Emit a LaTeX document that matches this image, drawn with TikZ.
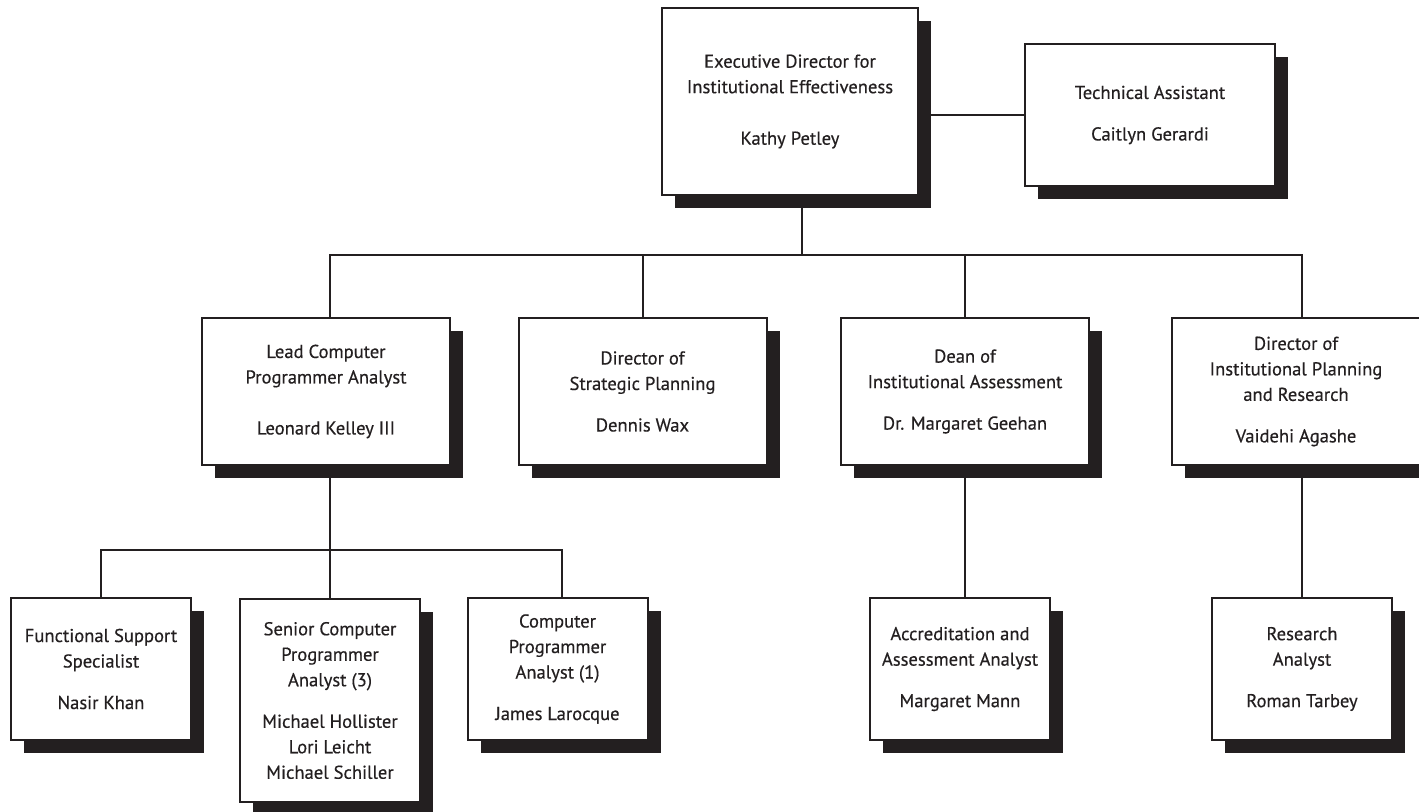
\documentclass[tikz,border=0pt]{standalone}
\usepackage{fontspec}
\setmainfont{PT Sans}
\newfontfamily\orgfont{PT Sans}[FakeBold=0.4]
\usepackage{tikz}
\usetikzlibrary{shadows}
\definecolor{ink}{HTML}{231F20}

\begin{document}
\begin{tikzpicture}[
  x=0.5pt, y=-0.5pt,
  post/.style={draw=ink,line width=1pt,fill=white,align=center,inner sep=0pt,
    text=ink,font=\orgfont\fontsize{9.3}{12.75}\selectfont,
    drop shadow={shadow xshift=6.5pt,shadow yshift=-6.5pt,opacity=1,fill=ink}},
  chief/.style={post,minimum width=128pt,minimum height=93.5pt},
  aide/.style={post,minimum width=125pt,minimum height=71pt},
  head/.style={post,minimum width=124pt,minimum height=73.5pt},
  staff/.style={post,minimum width=90pt,minimum height=71pt},
  link/.style={draw=ink,line width=1pt}]
\useasboundingbox (0,0) rectangle (1419,812);
% top level
\node[chief] (exec) at (790,101.5) {Executive Director for\\Institutional Effectiveness\\[13pt]Kathy Petley};
\node[aide] (tech) at (1150,115) {Technical Assistant\\[8pt]Caitlyn Gerardi};
% directors
\node[head] (lead) at (326,391.5) {Lead Computer\\Programmer Analyst\\[12.75pt]Leonard Kelley III};
\node[head] (strat) at (642.5,391.5) {Director of\\Strategic Planning\\[8pt]Dennis Wax};
\node[head] (dean) at (965,391.5) {Dean of\\Institutional Assessment\\[8pt]Dr. Margaret Geehan};
\node[head] (plan) at (1296,391.5) {Director of\\Institutional Planning\\and Research\\[8pt]Vaidehi Agashe};
% staff
\node[staff] (func) at (101,669) {Functional Support\\Specialist\\[8pt]Nasir Khan};
\node[staff,minimum height=101.5pt] (senior) at (330,700.5) {Senior Computer\\Programmer\\Analyst (3)\\[8pt]Michael Hollister\\Lori Leicht\\Michael Schiller};
\node[staff] (prog) at (557.5,669) {Computer\\Programmer\\Analyst (1)\\[8pt]James Larocque};
\node[staff] (accred) at (960,669) {Accreditation and\\Assessment Analyst\\[8pt]Margaret Mann};
\node[staff] (research) at (1302,669) {Research\\Analyst\\[8pt]Roman Tarbey};
% connectors
\coordinate (bus) at (802,255);
\coordinate (fork) at (330,550);
\draw[link] (tech.west) -- (tech.west -| exec.east);
\draw[link] ([xshift=6pt]exec.south) -- (bus);
\draw[link] (lead.north -| fork) |- (bus) -| (research.north |- plan.north);
\draw[link] (strat.north) -- (strat.north |- bus);
\draw[link] (dean.north) -- (dean.north |- bus);
\draw[link] (lead.south -| fork) -- (fork);
\draw[link] (func.north) |- (fork) -| ([xshift=2pt]prog.north);
\draw[link] (senior.north) -- (fork);
\draw[link] (dean.south) -- (dean.south |- accred.north);
\draw[link] (research.north |- plan.south) -- (research.north);
\end{tikzpicture}
\end{document}
